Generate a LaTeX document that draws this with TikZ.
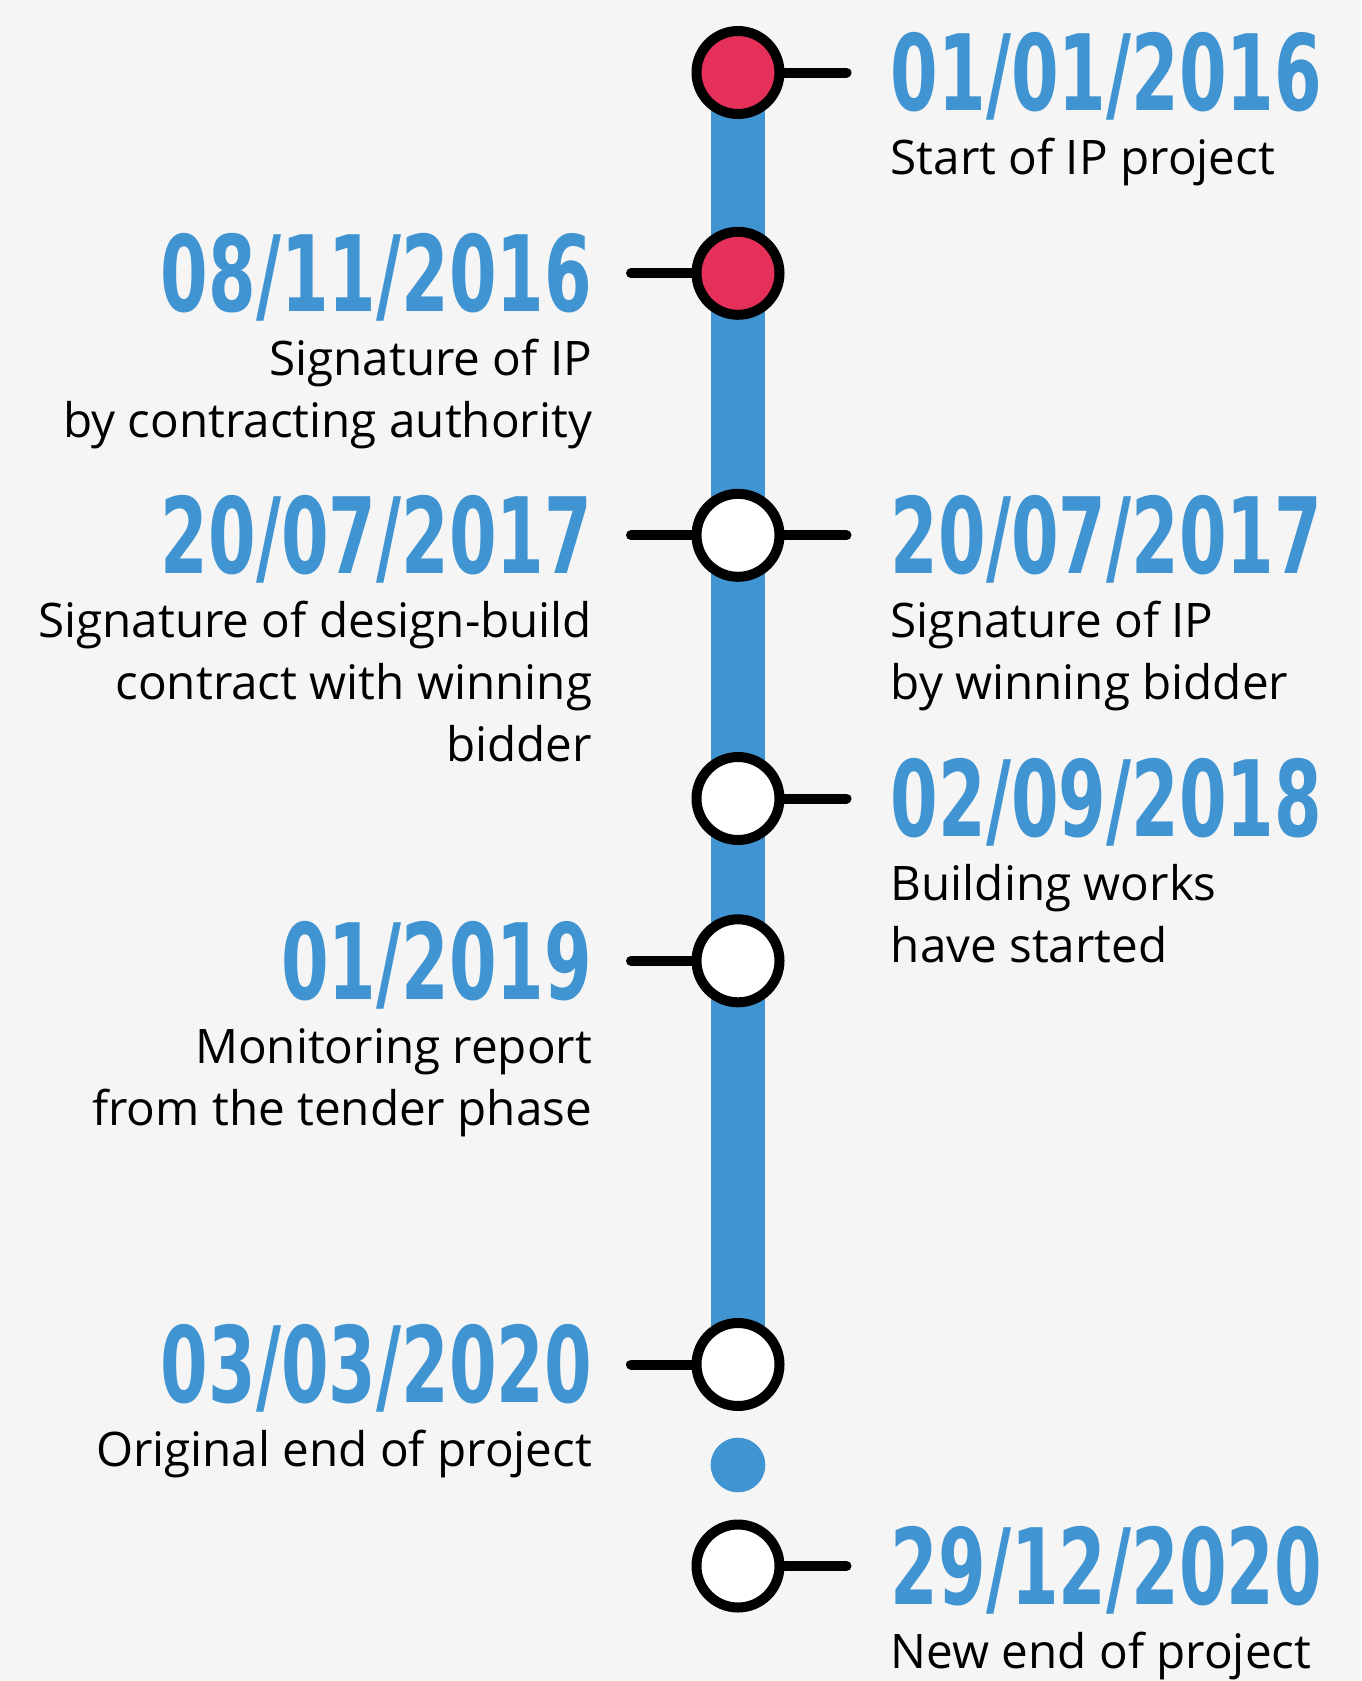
\documentclass[tikz,border=0pt]{standalone}
\usepackage{fontspec}
\setmainfont{Open Sans}
\newfontfamily\datefont[FakeStretch=0.65]{DejaVu Sans}
\usetikzlibrary{positioning,backgrounds}

\definecolor{lineblue}{HTML}{4094D1}
\definecolor{dotred}{HTML}{E5305A}
\definecolor{paper}{HTML}{F5F5F5}

\tikzset{
  event/.style={circle, draw=black, line width=7.5pt, fill=white,
    minimum size=62.25pt, inner sep=0pt},
  gapdot/.style={circle, fill=lineblue, minimum size=41pt, inner sep=0pt},
  bar/.style={draw=lineblue, line width=40.5pt},
  tick/.style={draw=black, line width=7.5pt, line cap=round},
  date/.style={font=\datefont\bfseries\fontsize{79pt}{79pt}\selectfont,
    text=lineblue, inner sep=0pt, text height=57.6pt, text depth=0pt},
  desc/.style={font=\fontsize{35.7pt}{46.5pt}\selectfont, inner sep=0pt}
}

\begin{document}
\begin{tikzpicture}[x=0.75pt, y=-0.75pt]
  \useasboundingbox (0,0) rectangle (1361,1681);

  % milestones on the time line
  \node (c1) [event, fill=dotred] at (738,72.5) {};
  \node (c2) [event, fill=dotred] at (738,273.3) {};
  \node (c3) [event] at (738,535.3) {};
  \node (c4) [event] at (738,798.5) {};
  \node (c5) [event] at (738,960.8) {};
  \node (c6) [event] at (738,1364.5) {};
  \node (gap) [gapdot] at (738,1465) {};
  \node (c7) [event] at (738,1566) {};

  \begin{scope}[on background layer]
    \fill[paper] (0,0) rectangle (1361,1681);
    \draw[bar] (c1.center) -- (c6.center);
  \end{scope}

  % tick ends
  \coordinate (r1) at (846.5,72.5);
  \coordinate (l2) at (631,273.3);
  \coordinate (l3) at (631,535.3);
  \coordinate (r3) at (846.5,535.3);
  \coordinate (r4) at (846.5,798.5);
  \coordinate (l5) at (631,960.8);
  \coordinate (l6) at (631,1364.5);
  \coordinate (r7) at (846.5,1566);

  \draw[tick] (c1) -- (r1);
  \draw[tick] (c2) -- (l2);
  \draw[tick] (c3) -- (l3);
  \draw[tick] (c3) -- (r3);
  \draw[tick] (c4) -- (r4);
  \draw[tick] (c5) -- (l5);
  \draw[tick] (c6) -- (l6);
  \draw[tick] (c7) -- (r7);

  % right side (base of a text block = its last line)
  \node (d1) [date, right=33pt of r1] {01/01/2016};
  \node (t1) [desc, anchor=base west, align=left] at ([yshift=-48pt]d1.base west)
    {Start of IP project};
  \node (d3r) [date, right=33pt of r3] {20/07/2017};
  \node (t3r) [desc, anchor=base west, align=left] at ([yshift=-94.5pt]d3r.base west)
    {Signature of IP\\by winning bidder};
  \node (d4) [date, right=33pt of r4] {02/09/2018};
  \node (t4) [desc, anchor=base west, align=left] at ([yshift=-94.5pt]d4.base west)
    {Building works\\have started};
  \node (d7) [date, right=33pt of r7] {29/12/2020};
  \node (t7) [desc, anchor=base west, align=left] at ([yshift=-48pt]d7.base west)
    {New end of project};

  % left side
  \node (d2) [date, left=29pt of l2] {08/11/2016};
  \node (t2) [desc, anchor=base east, align=right] at ([yshift=-94.5pt]d2.base east)
    {Signature of IP\\by contracting authority};
  \node (d3l) [date, left=29pt of l3] {20/07/2017};
  \node (t3l) [desc, anchor=base east, align=right] at ([yshift=-141pt]d3l.base east)
    {Signature of design-build\\contract with winning\\bidder};
  \node (d5) [date, left=29pt of l5] {01/2019};
  \node (t5) [desc, anchor=base east, align=right] at ([yshift=-94.5pt]d5.base east)
    {Monitoring report\\from the tender phase};
  \node (d6) [date, left=29pt of l6] {03/03/2020};
  \node (t6) [desc, anchor=base east, align=right] at ([yshift=-48pt]d6.base east)
    {Original end of project};
\end{tikzpicture}
\end{document}
